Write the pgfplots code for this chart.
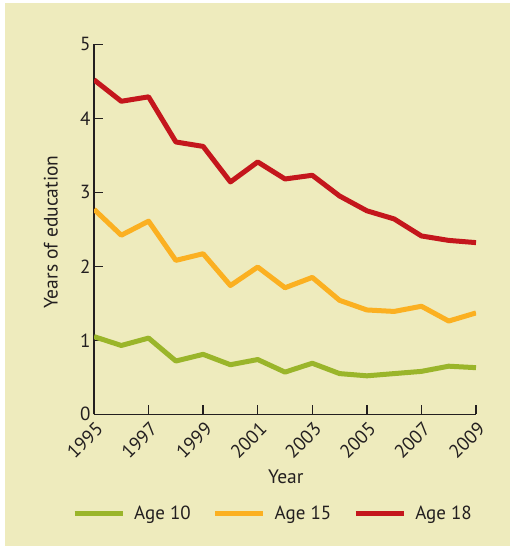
\documentclass[border=0pt]{standalone}
\usepackage{pgfplots}
\pgfplotsset{compat=1.18}
\usepackage{fontspec}
\setmainfont{PT Sans}
\definecolor{bg}{HTML}{EEEBBD}
\definecolor{cgreen}{HTML}{9AB52A}
\definecolor{corange}{HTML}{FBB021}
\definecolor{cred}{HTML}{C4161C}
\definecolor{ink}{HTML}{231F20}
\begin{document}
\begin{tikzpicture}[x=1pt,y=1pt]
\fill[white] (0,0) rectangle (510,546);
\fill[bg] (5,0) rectangle (510,542.5);
\begin{axis}[
  at={(94pt,131.7pt)}, anchor=south west,
  scale only axis, width=382pt, height=370pt,
  xmin=1995, xmax=2009, ymin=0, ymax=5,
  axis lines=left, axis line style={-, ink, line width=1.3pt},
  xtick={1995,1997,...,2009},
  minor x tick num=1,
  ytick={0,1,2,3,4,5},
  tick align=inside, major tick length=9pt, minor tick length=9pt,
  tick style={ink, line width=1.3pt},
  /pgf/number format/assume math mode=true,
  /pgf/number format/1000 sep={},
  xticklabel style={xshift=8pt, yshift=-9pt, rotate=45, anchor=east, font=\fontsize{19}{21}\selectfont, text=ink},
  yticklabel style={font=\fontsize{19}{21}\selectfont, text=ink},
  ylabel={Years of education},
  every axis y label/.style={at={(axis description cs:-0.113,0.493)}, rotate=90, anchor=center, font=\fontsize{19.5}{21}\selectfont, text=ink},
  xlabel={Year},
  every axis x label/.style={at={(axis description cs:0.5,0)}, anchor=center, yshift=-62.5pt, xshift=0.8pt, font=\fontsize{19.5}{21}\selectfont, text=ink},
  legend columns=3,
  legend style={draw=none, fill=none, at={(axis description cs:0.5,0)}, anchor=center, yshift=-98.7pt, xshift=-12pt,
    font=\fontsize{19}{21}\selectfont, text=ink,
    /tikz/every odd column/.append style={column sep=7pt},
    /tikz/every even column/.append style={column sep=20pt}},
  legend image code/.code={\draw[#1, line width=5pt] (0pt,0pt) -- (48pt,0pt);},
  every axis plot/.append style={line width=5pt, line join=round},
]
\addplot[cgreen] coordinates {(1995,1.05)(1996,0.93)(1997,1.03)(1998,0.72)(1999,0.81)(2000,0.67)(2001,0.74)(2002,0.57)(2003,0.69)(2004,0.55)(2005,0.52)(2006,0.55)(2007,0.58)(2008,0.65)(2009,0.63)};
\addlegendentry{Age 10}
\addplot[corange] coordinates {(1995,2.77)(1996,2.42)(1997,2.61)(1998,2.08)(1999,2.17)(2000,1.74)(2001,1.99)(2002,1.71)(2003,1.85)(2004,1.54)(2005,1.41)(2006,1.39)(2007,1.46)(2008,1.26)(2009,1.37)};
\addlegendentry{Age 15}
\addplot[cred] coordinates {(1995,4.52)(1996,4.23)(1997,4.29)(1998,3.68)(1999,3.62)(2000,3.14)(2001,3.41)(2002,3.18)(2003,3.23)(2004,2.95)(2005,2.75)(2006,2.64)(2007,2.41)(2008,2.35)(2009,2.32)};
\addlegendentry{Age 18}
\end{axis}
\end{tikzpicture}
\end{document}
